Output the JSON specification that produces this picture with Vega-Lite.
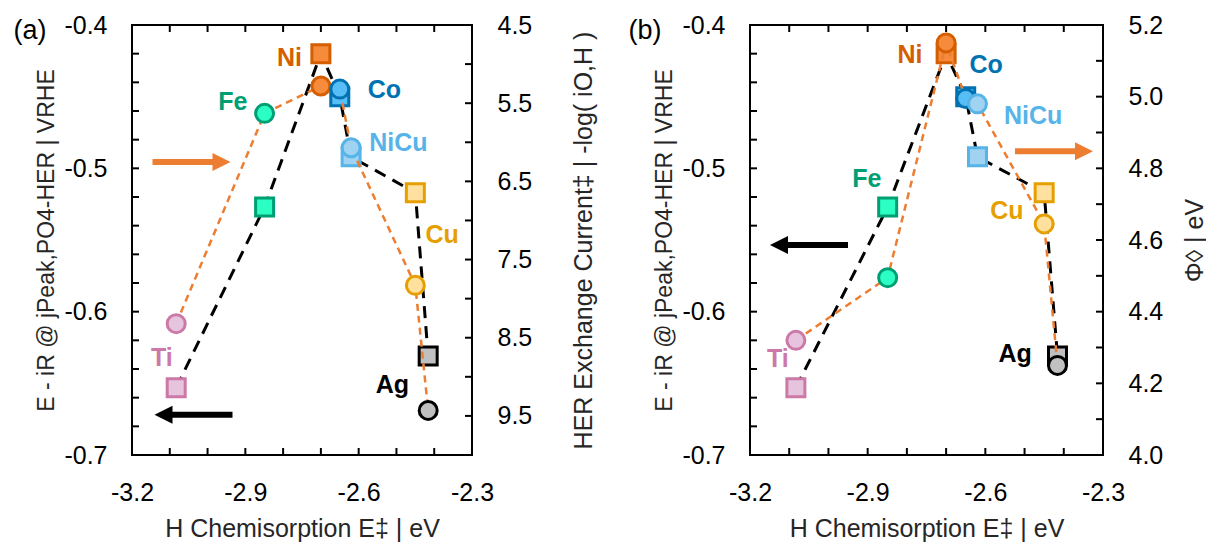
{
  "$schema": "https://vega.github.io/schema/vega-lite/v6.json",
  "background": "white",
  "padding": {"left": 12, "top": 12, "right": 0, "bottom": 0},
  "spacing": 29,
  "config": {
    "font": "Liberation Sans",
    "view": {"stroke": "black", "strokeWidth": 2},
    "axis": {
      "domain": false,
      "ticks": false,
      "tickSize": 0,
      "grid": false,
      "labelFont": "Liberation Sans",
      "labelFontSize": 25,
      "labelColor": "black",
      "labelPadding": 25,
      "labelFlush": false,
      "labelOverlap": false,
      "labelBound": false,
      "titleFont": "Liberation Sans",
      "titleFontSize": 25,
      "titleFontWeight": "normal",
      "titleColor": "#262626"
    }
  },
  "datasets": {
    "el": [
      {"el": "Ti", "h": -3.083, "e": -0.653, "logi": 8.32, "phi": 4.32},
      {"el": "Fe", "h": -2.849, "e": -0.527, "logi": 5.63, "phi": 4.495},
      {"el": "Ni", "h": -2.7, "e": -0.42, "logi": 5.28, "phi": 5.15},
      {"el": "Co", "h": -2.65, "e": -0.45, "logi": 5.32, "phi": 4.995},
      {"el": "NiCu", "h": -2.62, "e": -0.492, "logi": 6.07, "phi": 4.98},
      {"el": "Cu", "h": -2.45, "e": -0.517, "logi": 7.83, "phi": 4.645},
      {"el": "Ag", "h": -2.416, "e": -0.631, "logi": 9.43, "phi": 4.25}
    ],
    "labA": [
      {"el": "Ni", "x": -2.783, "y": -0.423},
      {"el": "Fe", "x": -2.933, "y": -0.454},
      {"el": "Co", "x": -2.532, "y": -0.445},
      {"el": "NiCu", "x": -2.495, "y": -0.482},
      {"el": "Cu", "x": -2.379, "y": -0.5465},
      {"el": "Ti", "x": -3.121, "y": -0.632},
      {"el": "Ag", "x": -2.511, "y": -0.651}
    ],
    "labB": [
      {"el": "Ni", "x": -2.792, "y": -0.421},
      {"el": "Co", "x": -2.598, "y": -0.428},
      {"el": "NiCu", "x": -2.478, "y": -0.4635},
      {"el": "Fe", "x": -2.902, "y": -0.5074},
      {"el": "Cu", "x": -2.545, "y": -0.53},
      {"el": "Ti", "x": -3.129, "y": -0.633},
      {"el": "Ag", "x": -2.524, "y": -0.6295}
    ],
    "tagA": [{"tag": "(a)", "x": -3.47, "y": -0.4042}],
    "tagB": [{"tag": "(b)", "x": -3.4677, "y": -0.4042}],
    "arrA": [
      {"dir": "right", "x": -3.0425, "y": -0.4956},
      {"dir": "left", "x": -3.0372, "y": -0.672}
    ],
    "arrB": [
      {"dir": "left", "x": -3.0496, "y": -0.5535},
      {"dir": "right", "x": -2.425, "y": -0.488}
    ],
    "tickA": [
      {"side": "l", "x": -3.2, "y": -0.68}, {"side": "l", "x": -3.2, "y": -0.66}, {"side": "l", "x": -3.2, "y": -0.64}, {"side": "l", "x": -3.2, "y": -0.62},
      {"side": "l", "x": -3.2, "y": -0.6}, {"side": "l", "x": -3.2, "y": -0.58}, {"side": "l", "x": -3.2, "y": -0.56}, {"side": "l", "x": -3.2, "y": -0.54},
      {"side": "l", "x": -3.2, "y": -0.52}, {"side": "l", "x": -3.2, "y": -0.5}, {"side": "l", "x": -3.2, "y": -0.48}, {"side": "l", "x": -3.2, "y": -0.46},
      {"side": "l", "x": -3.2, "y": -0.44}, {"side": "l", "x": -3.2, "y": -0.42},
      {"side": "r", "x": -2.3, "y": -0.42727}, {"side": "r", "x": -2.3, "y": -0.45455}, {"side": "r", "x": -2.3, "y": -0.48182}, {"side": "r", "x": -2.3, "y": -0.50909},
      {"side": "r", "x": -2.3, "y": -0.53636}, {"side": "r", "x": -2.3, "y": -0.56364}, {"side": "r", "x": -2.3, "y": -0.59091}, {"side": "r", "x": -2.3, "y": -0.61818},
      {"side": "r", "x": -2.3, "y": -0.64545}, {"side": "r", "x": -2.3, "y": -0.67273},
      {"side": "b", "x": -3.1, "y": -0.7}, {"side": "b", "x": -3.0, "y": -0.7}, {"side": "b", "x": -2.9, "y": -0.7}, {"side": "b", "x": -2.8, "y": -0.7},
      {"side": "b", "x": -2.7, "y": -0.7}, {"side": "b", "x": -2.6, "y": -0.7}, {"side": "b", "x": -2.5, "y": -0.7}, {"side": "b", "x": -2.4, "y": -0.7},
      {"side": "t", "x": -3.1, "y": -0.4}, {"side": "t", "x": -3.0, "y": -0.4}, {"side": "t", "x": -2.9, "y": -0.4}, {"side": "t", "x": -2.8, "y": -0.4},
      {"side": "t", "x": -2.7, "y": -0.4}, {"side": "t", "x": -2.6, "y": -0.4}, {"side": "t", "x": -2.5, "y": -0.4}, {"side": "t", "x": -2.4, "y": -0.4}
    ],
    "tickB": [
      {"side": "l", "x": -3.2, "y": -0.68}, {"side": "l", "x": -3.2, "y": -0.66}, {"side": "l", "x": -3.2, "y": -0.64}, {"side": "l", "x": -3.2, "y": -0.62},
      {"side": "l", "x": -3.2, "y": -0.6}, {"side": "l", "x": -3.2, "y": -0.58}, {"side": "l", "x": -3.2, "y": -0.56}, {"side": "l", "x": -3.2, "y": -0.54},
      {"side": "l", "x": -3.2, "y": -0.52}, {"side": "l", "x": -3.2, "y": -0.5}, {"side": "l", "x": -3.2, "y": -0.48}, {"side": "l", "x": -3.2, "y": -0.46},
      {"side": "l", "x": -3.2, "y": -0.44}, {"side": "l", "x": -3.2, "y": -0.42},
      {"side": "r", "x": -2.3, "y": -0.425}, {"side": "r", "x": -2.3, "y": -0.45}, {"side": "r", "x": -2.3, "y": -0.475}, {"side": "r", "x": -2.3, "y": -0.5},
      {"side": "r", "x": -2.3, "y": -0.525}, {"side": "r", "x": -2.3, "y": -0.55}, {"side": "r", "x": -2.3, "y": -0.575}, {"side": "r", "x": -2.3, "y": -0.6},
      {"side": "r", "x": -2.3, "y": -0.625}, {"side": "r", "x": -2.3, "y": -0.65}, {"side": "r", "x": -2.3, "y": -0.675},
      {"side": "b", "x": -3.1, "y": -0.7}, {"side": "b", "x": -3.0, "y": -0.7}, {"side": "b", "x": -2.9, "y": -0.7}, {"side": "b", "x": -2.8, "y": -0.7},
      {"side": "b", "x": -2.7, "y": -0.7}, {"side": "b", "x": -2.6, "y": -0.7}, {"side": "b", "x": -2.5, "y": -0.7}, {"side": "b", "x": -2.4, "y": -0.7},
      {"side": "t", "x": -3.1, "y": -0.4}, {"side": "t", "x": -3.0, "y": -0.4}, {"side": "t", "x": -2.9, "y": -0.4}, {"side": "t", "x": -2.8, "y": -0.4},
      {"side": "t", "x": -2.7, "y": -0.4}, {"side": "t", "x": -2.6, "y": -0.4}, {"side": "t", "x": -2.5, "y": -0.4}, {"side": "t", "x": -2.4, "y": -0.4}
    ]
  },
  "hconcat": [
    {
      "width": 340,
      "height": 430,
      "layer": [
        {
          "data": {"name": "el"},
          "encoding": {
            "x": {"field": "h", "type": "quantitative", "scale": {"domain": [-3.2, -2.3], "nice": false, "zero": false},
              "axis": {"orient": "bottom", "values": [-3.2, -3.1, -3, -2.9, -2.8, -2.7, -2.6, -2.5, -2.4, -2.3],
                "labelExpr": "indexof([-3.2, -2.9, -2.6, -2.3], datum.value) >= 0 ? replace(format(datum.value, '.1f'), '−', '-') : ''",
                "title": "H Chemisorption E‡ | eV", "titlePadding": 11}},
            "y": {"field": "e", "type": "quantitative", "scale": {"domain": [-0.7, -0.4], "nice": false, "zero": false},
              "axis": {"orient": "left", "values": [-0.7, -0.68, -0.66, -0.64, -0.62, -0.6, -0.58, -0.56, -0.54, -0.52, -0.5, -0.48, -0.46, -0.44, -0.42, -0.4],
                "labelExpr": "indexof([-0.4, -0.5, -0.6, -0.7], datum.value) >= 0 ? replace(format(datum.value, '.1f'), '−', '-') : ''",
                "title": "E - iR @ jPeak,PO4-HER | VRHE", "titleFontSize": 23, "titlePadding": 5}}
          },
          "layer": [
            {"mark": {"type": "line", "color": "black", "strokeWidth": 3, "strokeDash": [12, 8]}},
            {"mark": {"type": "point", "shape": "square", "filled": true, "size": 324, "strokeWidth": 3, "opacity": 1},
              "encoding": {
                "fill": {"field": "el", "type": "nominal", "legend": null, "scale": {"domain": ["Ti", "Fe", "Ni", "Co", "NiCu", "Cu", "Ag"], "range": ["#E7C4DE", "#2BFFC3", "#F58B3B", "#56BDF5", "#A0D2F2", "#FFE09E", "#C0C0C0"]}},
                "stroke": {"field": "el", "type": "nominal", "legend": null, "scale": {"domain": ["Ti", "Fe", "Ni", "Co", "NiCu", "Cu", "Ag"], "range": ["#CC79A7", "#009E73", "#D55E00", "#0072B2", "#56B4E9", "#E69F00", "#000000"]}}
              }}
          ]
        },
        {
          "data": {"name": "el"},
          "encoding": {
            "x": {"field": "h", "type": "quantitative", "scale": {"domain": [-3.2, -2.3], "nice": false, "zero": false},
              "axis": {"orient": "top", "values": [-3.2, -3.1, -3, -2.9, -2.8, -2.7, -2.6, -2.5, -2.4, -2.3], "labels": false, "title": null}},
            "y": {"field": "logi", "type": "quantitative", "scale": {"domain": [4.5, 10], "reverse": true, "nice": false, "zero": false},
              "axis": {"orient": "right", "values": [4.5, 5, 5.5, 6, 6.5, 7, 7.5, 8, 8.5, 9, 9.5, 10],
                "labelExpr": "(datum.value * 2) % 2 == 1 ? format(datum.value, '.1f') : ''",
                "title": "HER Exchange Current‡ | -log( iO,H )", "titleAngle": 270, "titleBaseline": "top", "titlePadding": 40}}
          },
          "layer": [
            {"mark": {"type": "line", "color": "#ED7D31", "strokeWidth": 2.5, "strokeDash": [7, 5]}},
            {"mark": {"type": "point", "shape": "circle", "filled": true, "size": 324, "strokeWidth": 3, "opacity": 1},
              "encoding": {
                "fill": {"field": "el", "type": "nominal", "legend": null, "scale": {"domain": ["Ti", "Fe", "Ni", "Co", "NiCu", "Cu", "Ag"], "range": ["#E7C4DE", "#2BFFC3", "#F58B3B", "#56BDF5", "#A0D2F2", "#FFE09E", "#C0C0C0"]}},
                "stroke": {"field": "el", "type": "nominal", "legend": null, "scale": {"domain": ["Ti", "Fe", "Ni", "Co", "NiCu", "Cu", "Ag"], "range": ["#CC79A7", "#009E73", "#D55E00", "#0072B2", "#56B4E9", "#E69F00", "#000000"]}}
              }}
          ]
        },
        {
          "encoding": {
            "x": {"field": "x", "type": "quantitative", "scale": {"domain": [-3.2, -2.3], "nice": false, "zero": false}, "axis": null},
            "y": {"field": "y", "type": "quantitative", "scale": {"domain": [-0.7, -0.4], "nice": false, "zero": false}, "axis": null}
          },
          "layer": [
            {"data": {"name": "tickA"}, "transform": [{"filter": "datum.side == 'l'"}],
              "mark": {"type": "tick", "orient": "horizontal", "size": 7, "thickness": 2, "color": "black", "opacity": 1, "xOffset": 3.5}},
            {"data": {"name": "tickA"}, "transform": [{"filter": "datum.side == 'r'"}],
              "mark": {"type": "tick", "orient": "horizontal", "size": 7, "thickness": 2, "color": "black", "opacity": 1, "xOffset": -3.5}},
            {"data": {"name": "tickA"}, "transform": [{"filter": "datum.side == 'b'"}],
              "mark": {"type": "tick", "orient": "vertical", "size": 7, "thickness": 2, "color": "black", "opacity": 1, "yOffset": -3.5}},
            {"data": {"name": "tickA"}, "transform": [{"filter": "datum.side == 't'"}],
              "mark": {"type": "tick", "orient": "vertical", "size": 7, "thickness": 2, "color": "black", "opacity": 1, "yOffset": 3.5}},
            {"data": {"name": "labA"},
              "mark": {"type": "text", "fontSize": 25, "fontWeight": "bold", "align": "center", "baseline": "middle"},
              "encoding": {
                "text": {"field": "el"},
                "color": {"field": "el", "type": "nominal", "legend": null, "scale": {"domain": ["Ti", "Fe", "Ni", "Co", "NiCu", "Cu", "Ag"], "range": ["#CC79A7", "#009E73", "#D55E00", "#0072B2", "#56B4E9", "#E69F00", "#000000"]}}
              }},
            {"data": {"name": "tagA"},
              "mark": {"type": "text", "fontSize": 27, "align": "center", "baseline": "middle", "color": "black"},
              "encoding": {"text": {"field": "tag"}}},
            {"data": {"name": "arrA"}, "transform": [{"filter": "datum.dir == 'right'"}],
              "mark": {"type": "point", "shape": "M39,0L21,-9L21,-3L-39,-3L-39,3L21,3L21,9Z", "size": 4, "filled": true, "color": "#ED7D31", "opacity": 1, "strokeWidth": 0}},
            {"data": {"name": "arrA"}, "transform": [{"filter": "datum.dir == 'left'"}],
              "mark": {"type": "point", "shape": "M-39,0L-21,-9L-21,-3L39,-3L39,3L-21,3L-21,9Z", "size": 4, "filled": true, "color": "black", "opacity": 1, "strokeWidth": 0}}
          ]
        }
      ],
      "resolve": {"scale": {"y": "independent"}, "axis": {"x": "independent", "y": "independent"}}
    },
    {
      "width": 353,
      "height": 430,
      "layer": [
        {
          "data": {"name": "el"},
          "encoding": {
            "x": {"field": "h", "type": "quantitative", "scale": {"domain": [-3.2, -2.3], "nice": false, "zero": false},
              "axis": {"orient": "bottom", "values": [-3.2, -3.1, -3, -2.9, -2.8, -2.7, -2.6, -2.5, -2.4, -2.3],
                "labelExpr": "indexof([-3.2, -2.9, -2.6, -2.3], datum.value) >= 0 ? replace(format(datum.value, '.1f'), '−', '-') : ''",
                "title": "H Chemisorption E‡ | eV", "titlePadding": 11}},
            "y": {"field": "e", "type": "quantitative", "scale": {"domain": [-0.7, -0.4], "nice": false, "zero": false},
              "axis": {"orient": "left", "values": [-0.7, -0.68, -0.66, -0.64, -0.62, -0.6, -0.58, -0.56, -0.54, -0.52, -0.5, -0.48, -0.46, -0.44, -0.42, -0.4],
                "labelExpr": "indexof([-0.4, -0.5, -0.6, -0.7], datum.value) >= 0 ? replace(format(datum.value, '.1f'), '−', '-') : ''",
                "title": "E - iR @ jPeak,PO4-HER | VRHE", "titleFontSize": 23, "titlePadding": 5}}
          },
          "layer": [
            {"mark": {"type": "line", "color": "black", "strokeWidth": 3, "strokeDash": [12, 8]}},
            {"mark": {"type": "point", "shape": "square", "filled": true, "size": 324, "strokeWidth": 3, "opacity": 1},
              "encoding": {
                "fill": {"field": "el", "type": "nominal", "legend": null, "scale": {"domain": ["Ti", "Fe", "Ni", "Co", "NiCu", "Cu", "Ag"], "range": ["#E7C4DE", "#2BFFC3", "#F58B3B", "#56BDF5", "#A0D2F2", "#FFE09E", "#C0C0C0"]}},
                "stroke": {"field": "el", "type": "nominal", "legend": null, "scale": {"domain": ["Ti", "Fe", "Ni", "Co", "NiCu", "Cu", "Ag"], "range": ["#CC79A7", "#009E73", "#D55E00", "#0072B2", "#56B4E9", "#E69F00", "#000000"]}}
              }}
          ]
        },
        {
          "data": {"name": "el"},
          "encoding": {
            "x": {"field": "h", "type": "quantitative", "scale": {"domain": [-3.2, -2.3], "nice": false, "zero": false},
              "axis": {"orient": "top", "values": [-3.2, -3.1, -3, -2.9, -2.8, -2.7, -2.6, -2.5, -2.4, -2.3], "labels": false, "title": null}},
            "y": {"field": "phi", "type": "quantitative", "scale": {"domain": [4.0, 5.2], "nice": false, "zero": false},
              "axis": {"orient": "right", "values": [4, 4.1, 4.2, 4.3, 4.4, 4.5, 4.6, 4.7, 4.8, 4.9, 5, 5.1, 5.2],
                "labelExpr": "indexof([4, 4.2, 4.4, 4.6, 4.8, 5, 5.2], datum.value) >= 0 ? format(datum.value, '.1f') : ''",
                "title": "Φ◊ | eV", "titleAngle": 270, "titleBaseline": "top", "titlePadding": 20}}
          },
          "layer": [
            {"mark": {"type": "line", "color": "#ED7D31", "strokeWidth": 2.5, "strokeDash": [7, 5]}},
            {"mark": {"type": "point", "shape": "circle", "filled": true, "size": 324, "strokeWidth": 3, "opacity": 1},
              "encoding": {
                "fill": {"field": "el", "type": "nominal", "legend": null, "scale": {"domain": ["Ti", "Fe", "Ni", "Co", "NiCu", "Cu", "Ag"], "range": ["#E7C4DE", "#2BFFC3", "#F58B3B", "#56BDF5", "#A0D2F2", "#FFE09E", "#C0C0C0"]}},
                "stroke": {"field": "el", "type": "nominal", "legend": null, "scale": {"domain": ["Ti", "Fe", "Ni", "Co", "NiCu", "Cu", "Ag"], "range": ["#CC79A7", "#009E73", "#D55E00", "#0072B2", "#56B4E9", "#E69F00", "#000000"]}}
              }}
          ]
        },
        {
          "encoding": {
            "x": {"field": "x", "type": "quantitative", "scale": {"domain": [-3.2, -2.3], "nice": false, "zero": false}, "axis": null},
            "y": {"field": "y", "type": "quantitative", "scale": {"domain": [-0.7, -0.4], "nice": false, "zero": false}, "axis": null}
          },
          "layer": [
            {"data": {"name": "tickB"}, "transform": [{"filter": "datum.side == 'l'"}],
              "mark": {"type": "tick", "orient": "horizontal", "size": 7, "thickness": 2, "color": "black", "opacity": 1, "xOffset": 3.5}},
            {"data": {"name": "tickB"}, "transform": [{"filter": "datum.side == 'r'"}],
              "mark": {"type": "tick", "orient": "horizontal", "size": 7, "thickness": 2, "color": "black", "opacity": 1, "xOffset": -3.5}},
            {"data": {"name": "tickB"}, "transform": [{"filter": "datum.side == 'b'"}],
              "mark": {"type": "tick", "orient": "vertical", "size": 7, "thickness": 2, "color": "black", "opacity": 1, "yOffset": -3.5}},
            {"data": {"name": "tickB"}, "transform": [{"filter": "datum.side == 't'"}],
              "mark": {"type": "tick", "orient": "vertical", "size": 7, "thickness": 2, "color": "black", "opacity": 1, "yOffset": 3.5}},
            {"data": {"name": "labB"},
              "mark": {"type": "text", "fontSize": 25, "fontWeight": "bold", "align": "center", "baseline": "middle"},
              "encoding": {
                "text": {"field": "el"},
                "color": {"field": "el", "type": "nominal", "legend": null, "scale": {"domain": ["Ti", "Fe", "Ni", "Co", "NiCu", "Cu", "Ag"], "range": ["#CC79A7", "#009E73", "#D55E00", "#0072B2", "#56B4E9", "#E69F00", "#000000"]}}
              }},
            {"data": {"name": "tagB"},
              "mark": {"type": "text", "fontSize": 27, "align": "center", "baseline": "middle", "color": "black"},
              "encoding": {"text": {"field": "tag"}}},
            {"data": {"name": "arrB"}, "transform": [{"filter": "datum.dir == 'right'"}],
              "mark": {"type": "point", "shape": "M39,0L21,-9L21,-3L-39,-3L-39,3L21,3L21,9Z", "size": 4, "filled": true, "color": "#ED7D31", "opacity": 1, "strokeWidth": 0}},
            {"data": {"name": "arrB"}, "transform": [{"filter": "datum.dir == 'left'"}],
              "mark": {"type": "point", "shape": "M-39,0L-21,-9L-21,-3L39,-3L39,3L-21,3L-21,9Z", "size": 4, "filled": true, "color": "black", "opacity": 1, "strokeWidth": 0}}
          ]
        }
      ],
      "resolve": {"scale": {"y": "independent"}, "axis": {"x": "independent", "y": "independent"}}
    }
  ]
}
